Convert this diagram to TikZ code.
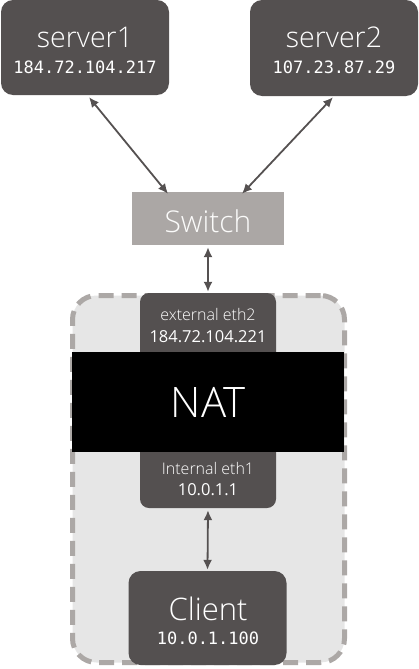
\documentclass[tikz,border=0pt]{standalone}
\usepackage{fontspec}
\setmainfont{Open Sans}
\newfontfamily\lightf{Open Sans Light}
\newfontfamily\monof{DejaVu Sans Mono}
\usetikzlibrary{arrows.meta}
\definecolor{darkbox}{HTML}{545050}
\definecolor{swgray}{HTML}{ABA7A5}
\definecolor{contfill}{HTML}{E6E6E6}
\definecolor{dashgray}{HTML}{ACA8A6}
\definecolor{arrowc}{HTML}{555151}
\tikzset{
  box/.style={rectangle, fill=darkbox, inner sep=0pt, rounded corners=12pt},
  title/.style={anchor=base, text=white, inner sep=0pt, font=\lightf\fontsize{28.5}{30}\selectfont},
  ip/.style={anchor=base, text=white, inner sep=0pt, font=\monof\fontsize{17}{18}\selectfont},
  small/.style={anchor=base, text=white, inner sep=0pt, font=\lightf\fontsize{16}{18}\selectfont},
  smallip/.style={anchor=base, text=white, inner sep=0pt, font=\fontsize{16.5}{18}\selectfont},
  link/.style={draw=arrowc, line width=1.8pt, {Latex[length=10pt,width=9pt]}-{Latex[length=10pt,width=9pt]}}
}
\begin{document}
\begin{tikzpicture}[x=1pt,y=-1pt]
\useasboundingbox (0,0) rectangle (418,669);
% container
\node[rectangle, draw=dashgray, fill=contfill, line width=5pt, dash pattern=on 15pt off 8pt,
      rounded corners=24pt, minimum width=272pt, minimum height=367pt, inner sep=0pt] (cont) at (208.5,479) {};
% boxes
\node[box, minimum width=168pt, minimum height=95pt] (s1) at (85,47.5) {};
\node[box, minimum width=168pt, minimum height=96pt] (s2) at (334,48) {};
\node[rectangle, fill=swgray, inner sep=0pt, minimum width=152pt, minimum height=53pt] (sw) at (208,218.5) {};
\node[box, rounded corners=9pt, minimum width=136pt, minimum height=70pt] (ext) at (208,328) {};
\node[box, rounded corners=9pt, minimum width=136pt, minimum height=70pt] (int) at (208,473) {};
\node[rectangle, fill=black, inner sep=0pt, minimum width=272pt, minimum height=100pt] (nat) at (208,402) {};
\node[box, minimum width=158pt, minimum height=94pt] (cl) at (207.5,618) {};
% texts
\node[title] (s1t) at (85,48) {server1};
\node[ip] (s1ip) at (85,74) {184.72.104.217};
\node[title] (s2t) at (334,48) {server2};
\node[ip] (s2ip) at (334,74) {107.23.87.29};
\node[title, font=\lightf\fontsize{30}{32}\selectfont, text=white!95!swgray] (swt) at (208,232) {Switch};
\node[small] (extt) at (208,320) {external eth2};
\node[smallip] (extip) at (208,342) {184.72.104.221};
\node[title, font=\lightf\fontsize{42}{44}\selectfont] (natt) at (208,417) {NAT};
\node[small] (intt) at (208,474) {Internal eth1};
\node[smallip] (intip) at (208,495) {10.0.1.1};
\node[title, font=\lightf\fontsize{31}{33}\selectfont] (clt) at (208,620) {Client};
\node[ip] (clip) at (208,644) {10.0.1.100};
% links
\draw[link] ([xshift=4pt,yshift=-2pt]s1.south) -- ([xshift=-40pt,yshift=-2pt]sw.north);
\draw[link] ([xshift=-1pt,yshift=-1pt]s2.south) -- ([xshift=34pt,yshift=-2pt]sw.north);
\draw[link] ([yshift=-2pt]sw.south) -- ([yshift=1pt]ext.north);
\draw[link] ([yshift=-2pt]int.south) -- ([yshift=1pt]cl.north);
\end{tikzpicture}
\end{document}
